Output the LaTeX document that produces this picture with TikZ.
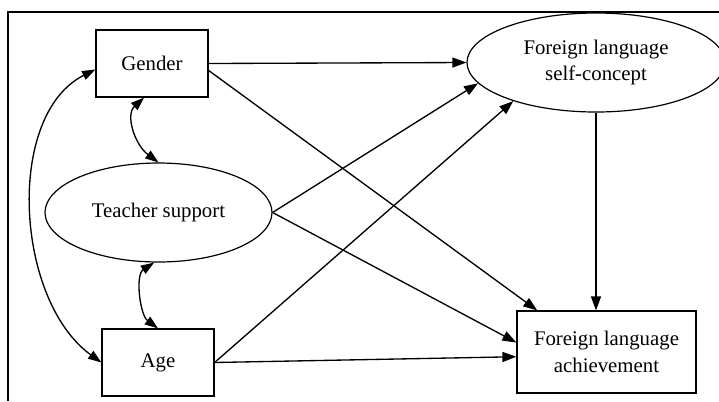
\documentclass[tikz,border=0pt]{standalone}
\usepackage{fontspec}
\setmainfont{Liberation Serif}
\usetikzlibrary{arrows.meta,shapes.geometric}
\begin{document}
\begin{tikzpicture}[x=0.75pt,y=-0.75pt,
  lbl/.style={font=\fontsize{15.6}{20}\selectfont, align=center, inner sep=0pt},
  box/.style={lbl, draw, line width=0.9pt, rectangle},
  ell/.style={lbl, draw, line width=0.9pt, ellipse},
  conn/.style={line width=1pt, -{Triangle[length=10.5pt,width=7.5pt]}},
  both/.style={line width=1pt, {Triangle[length=10pt,width=7pt]}-{Triangle[length=10pt,width=7pt]}},
  frame/.style={line width=1.4pt}]
\clip (0,0) rectangle (719,401);
\draw[frame] (719,12) -- (8,12) -- (8,401);
\node[box, minimum width=84pt, minimum height=50.25pt] (g) at (152,63.5) {Gender};
\node[ell, minimum width=170.25pt, minimum height=74.25pt] (ts) at (158.5,212.5) {Teacher support};
\node[box, minimum width=84pt, minimum height=50.25pt] (age) at (158,362.5) {Age};
\node[ell, minimum width=193.5pt, minimum height=74.25pt] (fsc) at (596,62.5) {Foreign language\\self-concept};
\node[box, minimum width=134.25pt, minimum height=61.5pt] (ach) at (606.5,352) {Foreign language\\achievement};
% directed paths
\draw[conn] (g.east) -- (fsc.west);
\draw[conn] (g.-7) -- (ach.149.5);
\draw[conn] (ts.east) -- (fsc.190);
\draw[conn] (ts.east) -- (ach.174);
\draw[conn] (age.east) -- (fsc.205);
\draw[conn] (age.east) -- (ach.183);
\draw[conn] (fsc.south) -- (fsc.south |- ach.north);
% correlations
\draw[both] (g.186) .. controls (5,115) and (15,300) .. (age.west);
\draw[both] (g.-103) .. controls (125,115) and (135,145) .. (ts.north);
\draw[both] (ts.-95) .. controls (135,275) and (140,315) .. (age.north);
\end{tikzpicture}
\end{document}
